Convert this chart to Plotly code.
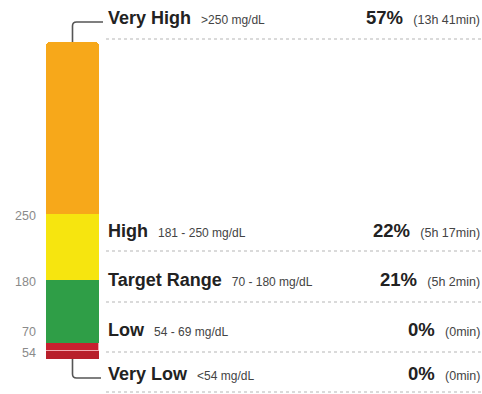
import plotly.graph_objects as go

# Glucose ranges, bottom to top of the stacked column
ranges = ["Very Low", "Low", "Target Range", "High", "Very High"]
range_limits = ["<54 mg/dL", "54 - 69 mg/dL", "70 - 180 mg/dL", "181 - 250 mg/dL", ">250 mg/dL"]
percent = [0, 0, 21, 22, 57]
durations = ["(0min)", "(0min)", "(5h 2min)", "(5h 17min)", "(13h 41min)"]
colors = ["#b81f2b", "#c8202f", "#2f9e47", "#f6e50f", "#f7a81a"]

# Threshold labels at segment boundaries (above Very Low, Low, Target, High)
thresholds = ["54", "70", "180", "250"]

W, H = 482, 394
MIN_VISIBLE = 2.66  # empty ranges still get a thin strip
FONT = "Liberation Sans, Arial, sans-serif"


def px(x):
    return x / W


def py(y):
    return 1 - y / H


def esc(s):
    return s.replace("<", "&lt;").replace(">", "&gt;")


shown = [max(p, MIN_VISIBLE) for p in percent]
total = sum(shown)

fig = go.Figure()
for name, val, col in zip(ranges, shown, colors):
    line = dict(width=0)
    if name == "Low":
        line = dict(width=1.2, color="#f3a9b0")
    fig.add_trace(go.Bar(
        x=[0], y=[val], name=name, marker=dict(color=col, line=line),
        width=1, hoverinfo="skip", showlegend=False,
    ))

bar_left, bar_right, bar_top, bar_bottom = 46, 99, 42, 359
fig.update_layout(
    width=W, height=H, margin=dict(l=0, r=0, t=0, b=0),
    paper_bgcolor="white", plot_bgcolor="white",
    barmode="stack", bargap=0, barcornerradius=4,
    xaxis=dict(domain=[px(bar_left), px(bar_right)], range=[-0.5, 0.5],
               visible=False, fixedrange=True),
    yaxis=dict(domain=[py(bar_bottom), py(bar_top)], range=[0, total],
               visible=False, fixedrange=True),
    font=dict(family=FONT),
)

# threshold labels to the left of the column
cum = 0
bounds = []
for v in shown[:-1]:
    cum += v
    bounds.append(cum)
for lab, b in zip(thresholds, bounds):
    shift = 11 if lab == "70" else -2
    fig.add_annotation(
        x=px(38), xref="paper", y=b, yref="y", yshift=shift,
        text=lab, showarrow=False, xanchor="right", yanchor="middle",
        font=dict(size=12.5, color="#8a8a8a", family=FONT),
    )

# rows of labels on the right: (text baseline, dotted line) in pixels
rows = {
    "Very High": (26, 39),
    "High": (239, 251),
    "Target Range": (288, 302),
    "Low": (338, 352),
    "Very Low": (382, 392),
}
for name, lim, pct, dur in zip(ranges, range_limits, percent, durations):
    base, dots = rows[name]
    fig.add_annotation(
        x=px(106), xref="paper", y=py(base + 4), yref="paper",
        text=f"<b>{name}</b>\u00a0\u00a0<span style='font-size:12px;color:#444'>{esc(lim)}</span>",
        showarrow=False, xanchor="left", yanchor="bottom",
        font=dict(size=18, color="#222", family=FONT),
    )
    fig.add_annotation(
        x=px(482), xref="paper", y=py(base + 4), yref="paper",
        text=f"<b>{pct}%</b>\u00a0\u00a0<span style='font-size:12.5px;color:#444'>{dur}</span>",
        showarrow=False, xanchor="right", yanchor="bottom",
        font=dict(size=18.5, color="#222", family=FONT),
    )
    fig.add_shape(
        type="line", xref="paper", yref="paper",
        x0=px(106), x1=px(482), y0=py(dots), y1=py(dots),
        line=dict(color="#b5b5b5", width=1, dash="dot"),
    )

# connectors from the column ends to the outer labels
cx = (bar_left + bar_right) / 2
top_path = (f"M {px(cx)},{py(bar_top)} L {px(cx)},{py(26)} "
            f"Q {px(cx)},{py(22)} {px(cx + 4)},{py(22)} L {px(103)},{py(22)}")
bot_path = (f"M {px(cx)},{py(bar_bottom)} L {px(cx)},{py(374)} "
            f"Q {px(cx)},{py(378)} {px(cx + 4)},{py(378)} L {px(101)},{py(378)}")
for p in (top_path, bot_path):
    fig.add_shape(type="path", xref="paper", yref="paper", path=p,
                  line=dict(color="#555", width=1.6))

fig.write_html("out.html")
